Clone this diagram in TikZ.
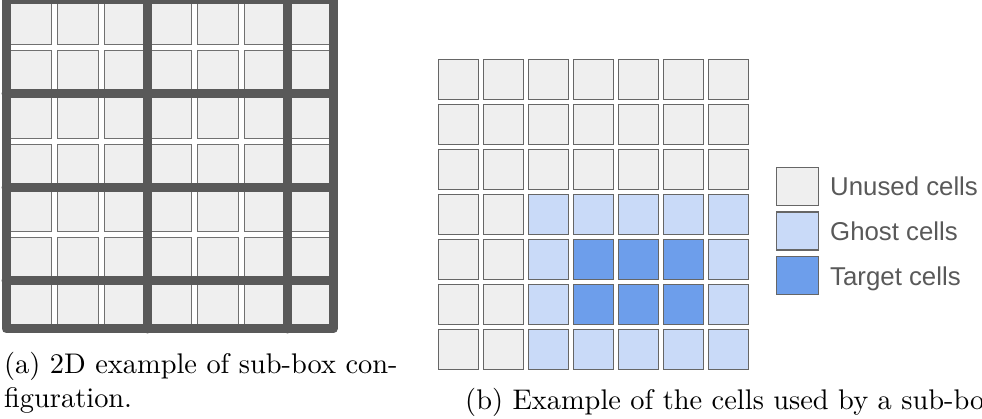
\documentclass[tikz,border=0pt]{standalone}
\usepackage{graphicx}
\usepackage{fontspec}
\newfontfamily\legendfont{Liberation Sans}
\definecolor{unused}{HTML}{EFEFEF}
\definecolor{ghost}{HTML}{C9DAF8}
\definecolor{target}{HTML}{6D9EEB}
\definecolor{cellline}{HTML}{666666}
\definecolor{subline}{HTML}{707070}
\definecolor{bar}{HTML}{595959}
\definecolor{legtext}{HTML}{595959}
\tikzset{
  subcell/.style={draw=subline, line width=1pt, fill=unused, anchor=north west,
    minimum width=41pt, minimum height=41pt, inner sep=0pt, outer sep=0pt},
  gridcell/.style={draw=cellline, line width=1.3pt, anchor=north west,
    minimum width=40.5pt, minimum height=40.5pt, inner sep=0pt, outer sep=0pt},
  legbox/.style={draw=cellline, line width=1.3pt, anchor=north west,
    minimum width=41.5pt, minimum height=38pt, inner sep=0pt, outer sep=0pt},
  legtxt/.style={anchor=base west, inner sep=0pt, text=legtext,
    font=\legendfont\fontsize{25.8}{30}\selectfont},
  boxbar/.style={draw=bar, line width=9pt, line join=round, line cap=round},
  captxt/.style={anchor=base west, inner sep=0pt}
}
\newcommand{\captext}[1]{\scalebox{2.84}{\fontsize{10}{12}\selectfont #1}}
\begin{document}
\begin{tikzpicture}[x=1pt,y=-1pt]
\useasboundingbox (0,0) rectangle (982,419);
% (a) sub-box configuration: 7x7 cells split by thick sub-box borders
\foreach \i in {0,...,6}{
  \foreach \j in {0,...,6}{
    \node[subcell] (s-\i-\j) at ({10.7+46.67*\i},{4+46.67*\j}) {};
  }
}
\coordinate (f-nw) at (6,0);
\coordinate (f-se) at (333,329);
\draw[boxbar] (f-nw) rectangle (f-se);
\coordinate (v1t) at (147.5,0);   \coordinate (v1b) at (147.5,329);
\coordinate (v2t) at (287.5,0);   \coordinate (v2b) at (287.5,329);
\coordinate (h1l) at (6,93.5);    \coordinate (h1r) at (333,93.5);
\coordinate (h2l) at (6,187.5);   \coordinate (h2r) at (333,187.5);
\coordinate (h3l) at (6,281);     \coordinate (h3r) at (333,281);
\draw[boxbar] (v1t) -- (v1b) (v2t) -- (v2b)
  (h1l) -- (h1r) (h2l) -- (h2r) (h3l) -- (h3r);
% (b) cells used by one sub-box
\foreach \i in {0,...,6}{
  \foreach \j in {0,...,6}{
    \def\cellfill{unused}
    \ifnum\i>1 \ifnum\j>2 \def\cellfill{ghost}\fi\fi
    \ifnum\i>2 \ifnum\i<6 \ifnum\j>3 \ifnum\j<6 \def\cellfill{target}\fi\fi\fi\fi
    \node[gridcell, fill=\cellfill] (c-\i-\j) at ({438.3+45*\i},{59.3+45*\j}) {};
  }
}
% legend
\node[legbox, fill=unused] (l1) at (776.7,167.3) {};
\node[legbox, fill=ghost]  (l2) at (776.7,212)   {};
\node[legbox, fill=target] (l3) at (776.7,256.7) {};
\node[legtxt] (t1) at (830,195.6) {Unused cells};
\node[legtxt] (t2) at (830,240.2) {Ghost cells};
\node[legtxt] (t3) at (830,285.2) {Target cells};
% captions
\node[captxt] (ca1) at (4,373) {\captext{(a) 2D example of sub-box con-}};
\node[captxt] (ca2) at (4,407) {\captext{figuration.}};
\node[captxt] (cb) at (465,409) {\captext{(b) Example of the cells used by a sub-bo}};
\end{tikzpicture}
\end{document}
